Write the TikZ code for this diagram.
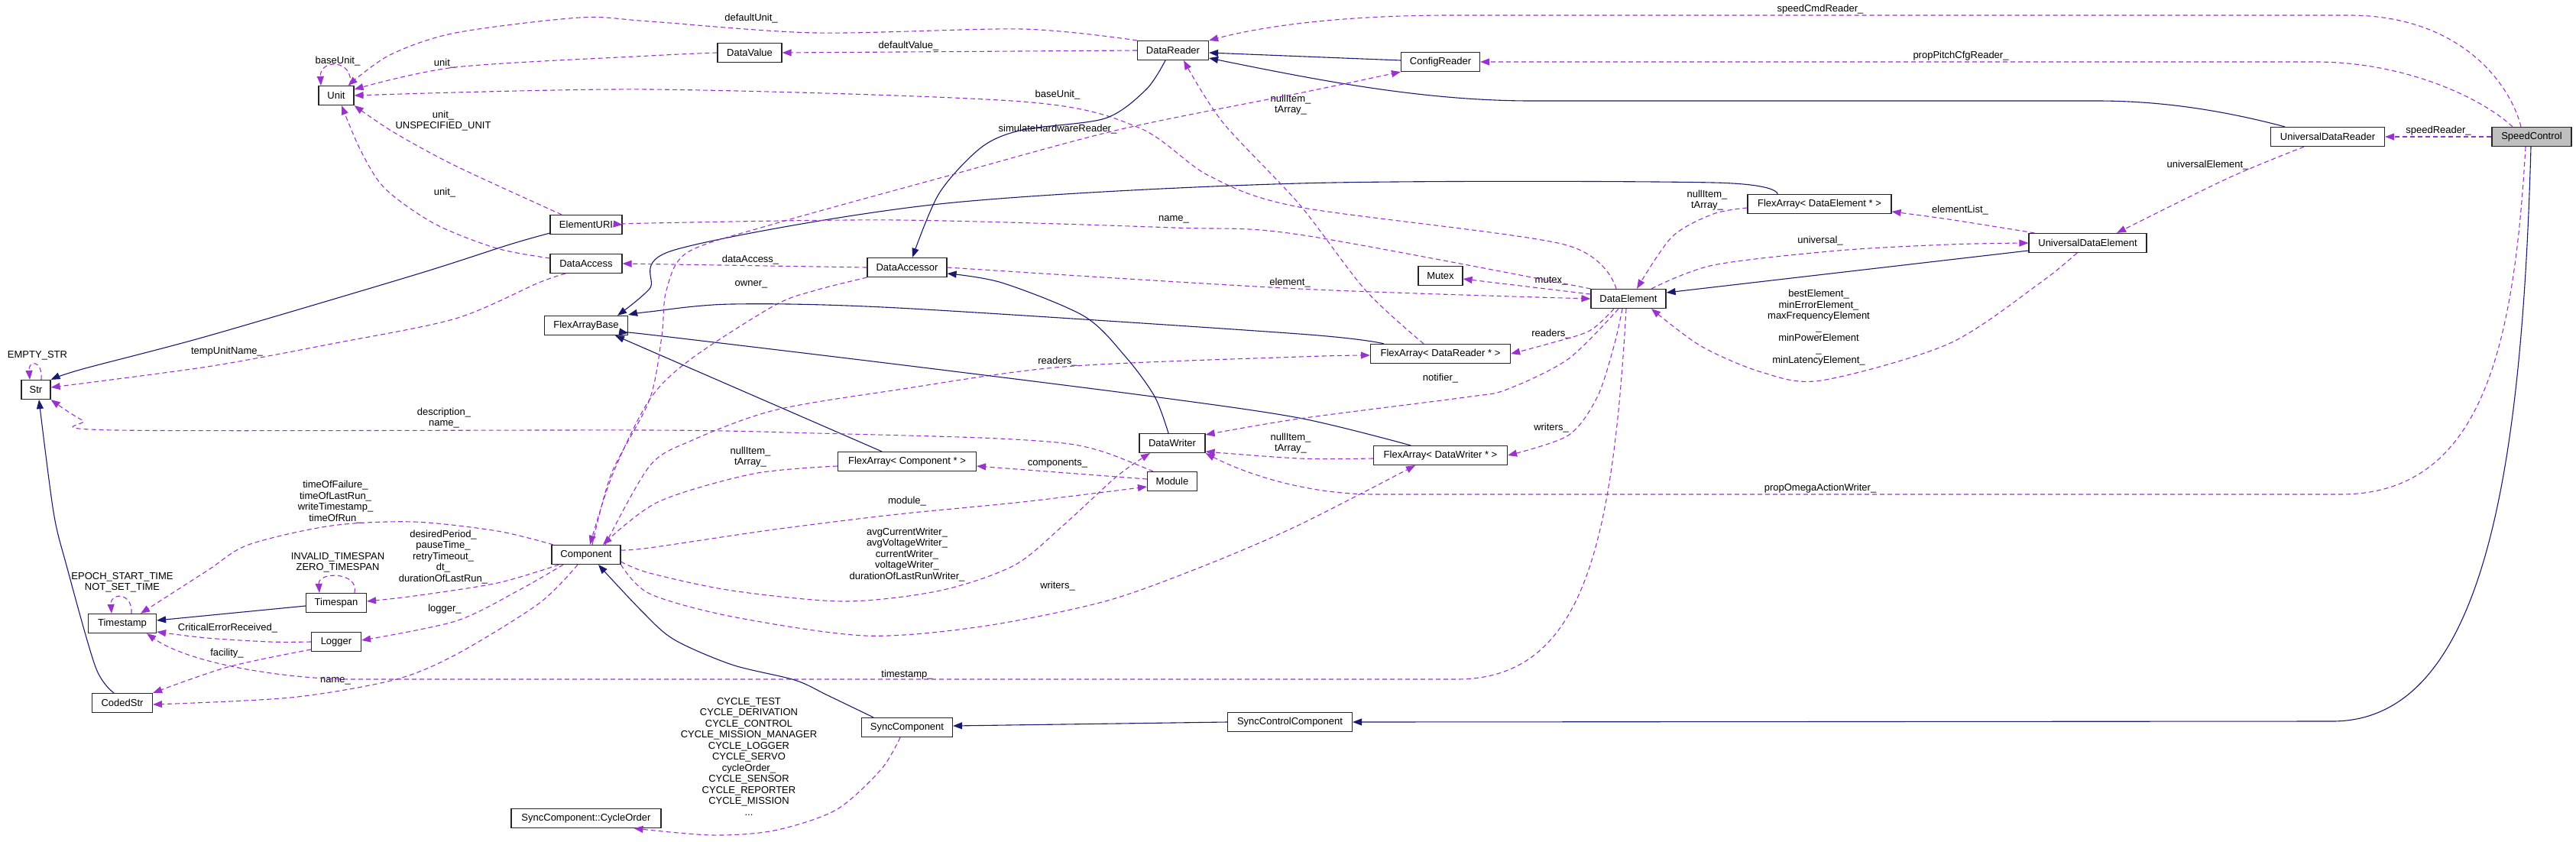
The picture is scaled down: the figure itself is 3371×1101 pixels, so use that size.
\documentclass[tikz,border=0pt]{standalone}
\usepackage{fontspec}
\setmainfont{Liberation Sans}
\usetikzlibrary{arrows.meta}
\definecolor{cpurple}{HTML}{9A32CD}
\definecolor{cnavy}{HTML}{191970}
\definecolor{cgrey}{HTML}{BFBFBF}
\tikzset{
  every picture/.style={font=\fontsize{13}{14.5}\selectfont},
  cls/.style={draw=black!85, fill=white, line width=1.2pt, minimum height=25pt, inner xsep=3pt, inner ysep=0pt, align=center},
  member/.style={draw=cpurple, line width=1.1pt, dash pattern=on 6pt off 4pt, -{Triangle[length=12pt, width=9pt]}},
  derive/.style={draw=cnavy, line width=1.1pt, -{Triangle[length=12pt, width=9pt]}},
  lbl/.style={align=center, inner sep=0pt},
}

\begin{document}
\begin{tikzpicture}[x=1pt, y=-1pt]
  \useasboundingbox (0,0) rectangle (3371,1101);
  \foreach \n/\x/\y/\w/\txt in {unit/440/125/46/Unit, dataval/981/69/84/DataValue,
      datareader/1535/66/93/DataReader, cfgreader/1885/81/103/ConfigReader,
      udreader/3046/179/149/UniversalDataReader, udelem/2732/318/154/UniversalDataElement,
      faelem/2381/267/188/{FlexArray< DataElement * >}, mutex/1885/361/58/Mutex,
      dataelem/2131/391/98/DataElement, fareader/1885/463/183/{FlexArray< DataReader * >},
      fawriter/1885/596/175/{FlexArray< DataWriter * >}, elemuri/767/294/94/ElementURI,
      dataaccess/767/345/94/DataAccess, accessor/1187/350/104/DataAccessor,
      fabase/767/426/109/FlexArrayBase, str/47/510/38/Str, datawriter/1534/580/86/DataWriter,
      facomp/1187/604/181/{FlexArray< Component * >}, module/1534/630/65/Module,
      component/767/726/90/Component, timestamp/160/816/89/Timestamp,
      timespan/440/789/79/Timespan, logger/440/840/65/Logger, codedstr/160/920/79/CodedStr,
      synccomp/1187/952/119/SyncComponent, syncctl/1688/945/163/SyncControlComponent,
      cycleorder/767/1071/196/{SyncComponent::CycleOrder}}
    { \node[cls, minimum width=\w pt] (\n) at (\x,\y) {\txt}; }
  \node[cls, fill=cgrey, minimum width=104pt] (speedctl) at (3313,179) {SpeedControl};

  \foreach \x/\y/\txt [count=\i] in {442/80/baseUnit\_, 983/24/defaultUnit\_, 582/83/unit\_,
      580/158/{unit\_\\UNSPECIFIED\_UNIT}, 582/252/unit\_, 1189/60/defaultValue\_,
      1384/124/baseUnit\_, 1384/169/simulateHardwareReader\_, 1689/137/{nullItem\_\\tArray\_},
      1536/287/name\_, 982/340/dataAccess\_, 983/372/owner\_, 1688/370/element\_,
      2382/12/speedCmdReader\_, 2566/73/propPitchCfgReader\_, 3191/171/speedReader\_,
      2889/216/universalElement\_, 2565/275/elementList\_, 2234/262/{nullItem\_\\tArray\_},
      2382/315/universal\_, 2030/368/mutex\_, 49/465/EMPTY\_STR, 297/460/tempUnitName\_,
      581/547/{description\_\\name\_},
      439/657/{timeOfFailure\_\\timeOfLastRun\_\\writeTimestamp\_\\timeOfRun\_},
      580/729/{desiredPeriod\_\\pauseTime\_\\retryTimeout\_\\dt\_\\durationOfLastRun\_},
      442/736/{INVALID\_TIMESPAN\\ZERO\_TIMESPAN}, 1384/473/readers\_,
      982/598/{nullItem\_\\tArray\_}, 1384/607/components\_, 1187/656/module\_,
      1187/726/{avgCurrentWriter\_\\avgVoltageWriter\_\\currentWriter\_\\voltageWriter\_\\durationOfLastRunWriter\_},
      1689/580/{nullItem\_\\tArray\_}, 2030/437/readers\_, 1885/495/notifier\_, 2030/560/writers\_,
      2380/429/{bestElement\_\\minErrorElement\_\\maxFrequencyElement\\\_\\minPowerElement\\\_\\minLatencyElement\_},
      2382/639/propOmegaActionWriter\_, 160/762/{EPOCH\_START\_TIME\\NOT\_SET\_TIME},
      298/822/CriticalErrorReceived\_, 582/797/logger\_, 297/855/facility\_, 439/891/name\_,
      1187/883/timestamp\_, 1384/767/writers\_,
      980/990/{CYCLE\_TEST\\CYCLE\_DERIVATION\\CYCLE\_CONTROL\\CYCLE\_MISSION\_MANAGER\\CYCLE\_LOGGER\\CYCLE\_SERVO\\cycleOrder\_\\CYCLE\_SENSOR\\CYCLE\_REPORTER\\CYCLE\_MISSION\\...}}
    { \node[lbl] (lab\i) at (\x,\y) {\txt}; }

  \draw[member] ([xshift=18pt]unit.north) .. controls +(6,-35) and +(-2,-35) .. ([xshift=-20pt]unit.north);
  \draw[member] plot[smooth] coordinates {(datareader.north west) (1338,38) (1067,43) (850,28) (759,23) (596,43) (510,72) ([xshift=-8pt]unit.north east)};
  \draw[member] plot[smooth] coordinates {(dataval.west) (850,73) (596,88) ([yshift=8pt]unit.east)};
  \draw[member] plot[smooth] coordinates {([xshift=-16pt]dataelem.north) (2047,320) (1700,271) (1582,230) (1490,167) (1338,133) (850,117) (unit.east)};
  \draw[member] plot[smooth] coordinates {([xshift=-32pt]elemuri.north) (596,217) (515,173) (unit.south east)};
  \draw[member] plot[smooth] coordinates {([yshift=-6pt]dataaccess.north west) (650,325) (569,293) (504,247) (472,197) ([xshift=7pt]unit.south)};
  \draw[derive] plot[smooth] coordinates {([yshift=2pt]elemuri.south west) (667,320) (542,360) (271,440) (108,483) (str.north east)};
  \draw[member] plot[smooth] coordinates {([xshift=-27pt]dataaccess.south) (705,370) (596,417) (434,450) (271,480) ([yshift=3pt]str.east)};
  \draw[member] (datareader.west) -- (dataval.east);
  \draw[derive] ([yshift=2pt]cfgreader.west) -- ([yshift=-3pt]datareader.east);
  \draw[derive] ([xshift=-56pt]udreader.north) .. controls (2900,142) and (2820,132) .. (2744,132) -- (2004,132) .. controls (1860,132) and (1720,104) .. ([yshift=-10pt]datareader.east);
  \draw[member] ([xshift=-14pt]speedctl.north) .. controls (3285,110) and (3220,20) .. (3074,20) -- (1900,20) .. controls (1750,20) and (1650,35) .. (datareader.north east);
  \draw[member] ([xshift=-25pt]speedctl.north) .. controls (3250,130) and (3150,81) .. (3030,81) -- (cfgreader.east);
  \draw[member] (speedctl.west) -- (udreader.east);
  \draw[member] plot[smooth] coordinates {([xshift=-31pt]udreader.south) (2916,233) ([xshift=38pt]udelem.north)};
  \draw[derive] ([yshift=-10pt]udelem.west) -- ([yshift=8pt]dataelem.east);
  \draw[member] plot[smooth] coordinates {([xshift=30pt]dataelem.north) (2242,347) (2405,328) (2550,320) (udelem.west)};
  \draw[member] plot[smooth] coordinates {([xshift=8pt]udelem.north west) (2550,287) ([yshift=-10pt]faelem.east)};
  \draw[member] plot[smooth] coordinates {([yshift=-5pt]faelem.west) (2242,280) (2188,310) ([xshift=11pt]dataelem.north)};
  \draw[derive] plot[smooth] coordinates {([xshift=-55pt]faelem.north) (2242,239) (1700,240) (1229,267) (883,327) (850,378) ([xshift=41pt]fabase.north)};
  \draw[member] plot[smooth] coordinates {(dataelem.north west) (1700,307) (1536,298) (1175,288) (850,292) (elemuri.east)};
  \draw[member] plot[smooth] coordinates {(accessor.east) (1700,378) (dataelem.west)};
  \draw[derive] plot[smooth] coordinates {([xshift=-10pt]datareader.south) (1500,117) (1446,155) (1338,170) (1284,193) (1229,253) ([xshift=7pt]accessor.north)};
  \draw[member] (accessor.west) -- (dataaccess.east);
  \draw[member] plot[smooth] coordinates {(accessor.south west) (1067,380) (1013,400) (904,470) (850,523) (802,620) ([xshift=5pt]component.north)};
  \draw[member] plot[smooth] coordinates {([xshift=-22pt]fareader.north) (1787,380) (1700,267) (1600,160) ([xshift=14pt]datareader.south)};
  \draw[member] plot[smooth] coordinates {([xshift=-19pt]dataelem.south) (2080,433) (2026,450) (fareader.east)};
  \draw[member] plot[smooth] coordinates {([xshift=25pt]component.north) (850,610) (904,577) (1013,537) (1175,510) (1392,480) (1700,467) ([yshift=-2pt]fareader.west)};
  \draw[derive] plot[smooth] coordinates {([xshift=-74pt]fareader.north) (1700,437) (1175,403) (958,398) (850,408) ([yshift=14pt]fabase.east)};
  \draw[derive] plot[smooth] coordinates {([xshift=-39pt]fawriter.north) (1700,547) (1501,518) (1175,477) (850,438) ([yshift=-10pt]fabase.east)};
  \draw[derive] ([xshift=-33pt]facomp.north) -- ([xshift=38pt]fabase.south);
  \draw[derive] plot[smooth] coordinates {([xshift=-5pt]datawriter.north) (1511,519) (1473,467) (1419,414) (1311,370) ([yshift=-8pt]accessor.east)};
  \draw[member] plot[smooth] coordinates {([xshift=-13pt]dataelem.south) (2052,470) (1971,510) (1917,520) (1700,548) ([yshift=11pt]datawriter.east)};
  \draw[member] plot[smooth] coordinates {([yshift=-4pt]fawriter.west) (1700,600) ([yshift=-11pt]datawriter.east)};
  \draw[member] plot[smooth] coordinates {(component.south east) (850,777) (958,807) (1132,832) (1284,820) (1446,787) (1577,740) (1700,687) ([xshift=-33pt]fawriter.south)};
  \draw[member] plot[smooth] coordinates {([xshift=-8pt]dataelem.south) (2112,453) (2090,520) (2052,570) (fawriter.east)};
  \draw[member] ([xshift=-8pt]speedctl.south) .. controls (3290,450) and (3250,647) .. (3063,647) -- (1800,647) .. controls (1700,647) and (1620,615) .. (datawriter.south east);
  \draw[member] plot[smooth] coordinates {([yshift=4pt]component.south east) (850,750) (958,773) (1105,787) (1230,773) (1327,740) (1392,687) (1462,623) ([xshift=-29pt]datawriter.south)};
  \draw[member] plot[smooth] coordinates {([yshift=6pt]component.east) (850,717) (1013,693) (1175,673) (1338,657) ([yshift=-7pt]module.west)};
  \draw[member] ([yshift=3pt]module.west) -- ([yshift=-6pt]facomp.east);
  \draw[member] plot[smooth] coordinates {([xshift=-25pt]module.north) (1446,592) (1392,580) (1284,573) (1067,567) (850,563) (152,563) (108,550) (str.south east)};
  \draw[member] plot[smooth] coordinates {([yshift=-6pt]facomp.west) (986,620) (861,657) ([xshift=22pt]component.north)};
  \draw[member] plot[smooth] coordinates {([xshift=-43pt]component.north) (651,695) (542,683) (434,688) (325,713) (271,747) ([xshift=24pt]timestamp.north)};
  \draw[member] plot[smooth] coordinates {([xshift=10pt]component.south west) (651,763) (542,780) ([yshift=2pt]timespan.east)};
  \draw[member] ([xshift=24pt]timespan.north) .. controls +(6,-28) and +(-2,-28) .. ([xshift=-22pt]timespan.north);
  \draw[member] ([xshift=12pt]timestamp.north) .. controls +(2,-28) and +(-2,-28) .. ([xshift=-14pt]timestamp.north);
  \draw[member] ([xshift=7pt]str.north) .. controls +(2,-26) and +(-2,-26) .. ([xshift=-8pt]str.north);
  \draw[derive] ([yshift=-4pt]timespan.west) -- ([yshift=4pt]timestamp.east);
  \draw[member] plot[smooth] coordinates {(logger.west) (353,840) (271,835) ([yshift=-11pt]timestamp.east)};
  \draw[member] plot[smooth] coordinates {([xshift=-30pt]component.south) (678,773) (596,813) ([yshift=2pt]logger.east)};
  \draw[member] plot[smooth] coordinates {([yshift=-10pt]logger.west) (298,873) (codedstr.north east)};
  \draw[member] plot[smooth] coordinates {([xshift=-11pt]component.south) (705,790) (596,857) (515,890) (380,913) ([yshift=-2pt]codedstr.east)};
  \draw[derive] plot[smooth] coordinates {([xshift=-11pt]codedstr.north) (125,873) (87,740) (70,670) ([xshift=4pt]str.south)};
  \draw[member] ([xshift=-3pt]dataelem.south) .. controls (2110,720) and (2070,889) .. (1906,889) -- (461,889) .. controls (380,889) and (250,870) .. ([xshift=32pt]timestamp.south);
  \draw[derive] plot[smooth] coordinates {([xshift=-44pt]synccomp.north) (1083,910) (1040,890) (958,870) (882,837) (840,800) ([xshift=16pt]component.south)};
  \draw[derive] (syncctl.west) -- ([yshift=2pt]synccomp.east);
  \draw[derive] ([xshift=-1pt]speedctl.south) .. controls (3300,620) and (3250,944) .. (3052,944) -- (syncctl.east);
  \draw[member] plot[smooth] coordinates {([xshift=-9pt]synccomp.south) (1153,1007) (1094,1060) (1013,1087) (931,1093) ([xshift=-36pt]cycleorder.south east)};
  \draw[member] plot[smooth] coordinates {([xshift=8pt]component.north) (800,620) (850,523) (866,440) (872,380) (900,330) (1013,293) (1230,233) (1463,170) (1700,122) (cfgreader.south west)};
  \draw[member] ([yshift=6pt]dataelem.west) -- ([yshift=-4pt]mutex.east);
  \draw[member] plot[smooth] coordinates {([xshift=-14pt]udelem.south) (2670,370) (2550,450) (2383,498) (2305,487) (2226,453) ([xshift=30pt]dataelem.south)};
\end{tikzpicture}
\end{document}
